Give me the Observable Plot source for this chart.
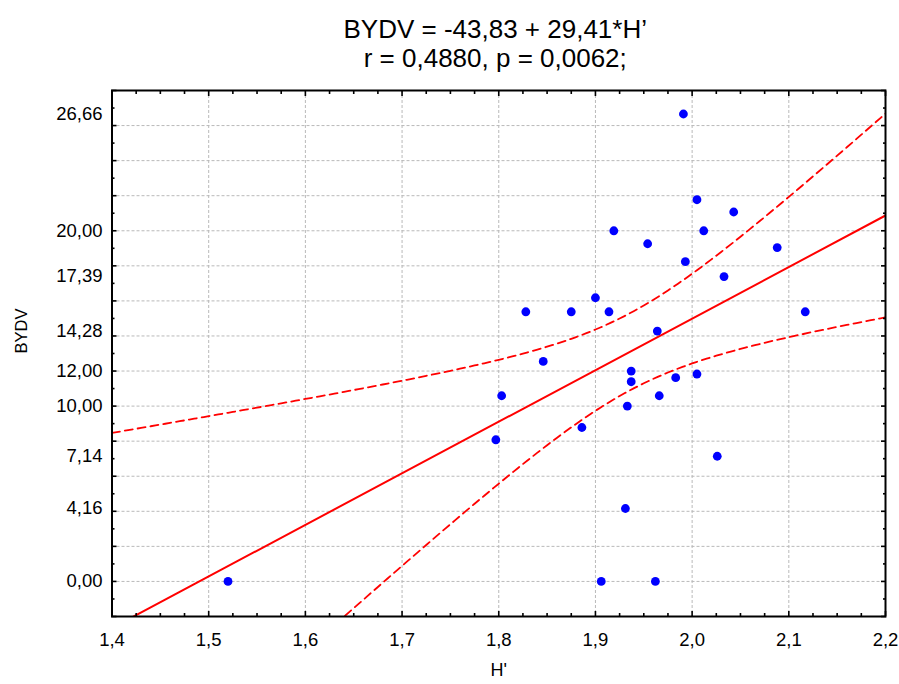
<!DOCTYPE html>
<html>
<head>
<meta charset="utf-8">
<script src="https://cdn.jsdelivr.net/npm/d3@7"></script>
<script src="https://cdn.jsdelivr.net/npm/@observablehq/plot@0.6"></script>
<style>
  html, body { margin: 0; padding: 0; background: #fff; }
  #chart svg { display: block; }
</style>
</head>
<body>
<div id="chart"></div>
<script>
// Shannon diversity index H' per plot
const hIndex = [
  1.520, 1.906, 1.962, 1.931, 2.026, 1.797, 1.886, 1.803, 1.933, 1.966,
  1.937, 1.937, 1.983, 2.005, 1.846, 1.964, 1.828, 1.875, 1.914, 2.117,
  1.900, 2.033, 1.993, 2.088, 1.954, 1.919, 2.012, 2.043, 2.005, 1.991
];
// BYDV incidence (%) for the same plots
const bydv = [
  0.00, 0.00, 0.00, 4.16, 7.14, 8.08, 8.78, 10.59, 10.00, 10.59,
  11.39, 12.00, 11.62, 11.83, 12.55, 14.28, 15.38, 15.38, 15.38, 15.38,
  16.18, 17.39, 18.24, 19.04, 19.26, 20.00, 20.00, 21.07, 21.77, 26.66
];

// Fitted model reported in the title
const intercept = -43.83;
const slope = 29.41;
const rValue = 0.4880;
const pValue = 0.0062;
const tCrit = 2.0484; // Student t, 0.975 quantile, df = 28

// Axis labelling
const yTickLabels = [0, 4.16, 7.14, 10, 12, 14.28, 17.39, 20, 26.66];
const xTickLabels = [1.4, 1.5, 1.6, 1.7, 1.8, 1.9, 2.0, 2.1, 2.2];
const xDomain = [1.4, 2.2];
const yDomain = [-2, 28];

const comma = (v, digits) => v.toFixed(digits).replace(".", ",");

const points = hIndex.map((h, i) => ({h, v: bydv[i]}));

// 95% confidence band of the mean response around the fitted line
const n = points.length;
const xMean = d3.mean(hIndex);
const sxx = d3.sum(hIndex, h => (h - xMean) ** 2);
const sse = d3.sum(points, d => (d.v - (intercept + slope * d.h)) ** 2);
const sRes = Math.sqrt(sse / (n - 2));
const bandXs = d3.range(0, 161).map(i => xDomain[0] + i * (xDomain[1] - xDomain[0]) / 160);
const band = bandXs.map(h => {
  const fit = intercept + slope * h;
  const half = tCrit * sRes * Math.sqrt(1 / n + (h - xMean) ** 2 / sxx);
  return {h, lo: fit - half, hi: fit + half};
});
const fitLine = xDomain.map(h => ({h, v: intercept + slope * h}));

// Tick positions: gridlines every 2 units / 0.1, minor ticks in between
const yMajor = d3.range(-2, 29, 2);
const yMinor = d3.range(-1, 28, 2);
const yGrid = d3.range(0, 27, 2);
const xMajor = xTickLabels;
const xMinor = d3.range(0, 33).map(i => +(1.4 + i * 0.025).toFixed(3)).filter(v => Math.abs(v * 10 - Math.round(v * 10)) > 1e-6);
const xGrid = xTickLabels.slice(1, -1);

const font = '"Liberation Sans", Arial, Helvetica, sans-serif';
const gridStyle = {stroke: "#b9b9b9", strokeOpacity: 1, strokeWidth: 1, strokeDasharray: "3,2"};
const tickStyle = {text: null, label: null, stroke: "#000", strokeWidth: 1.6};

const chart = Plot.plot({
  width: 899,
  height: 684,
  marginLeft: 111.5,
  marginRight: 14,
  marginTop: 90,
  marginBottom: 68,
  x: {domain: xDomain},
  y: {domain: yDomain},
  style: {fontFamily: font, background: "#fff", color: "#000", overflow: "visible"},
  marks: [
    Plot.gridX(xGrid, gridStyle),
    Plot.gridY(yGrid, gridStyle),

    Plot.line(band, {x: "h", y: "hi", stroke: "#ff0000", strokeWidth: 1.8, strokeDasharray: "8,5", clip: true}),
    Plot.line(band, {x: "h", y: "lo", stroke: "#ff0000", strokeWidth: 1.8, strokeDasharray: "8,5", clip: true}),
    Plot.line(fitLine, {x: "h", y: "v", stroke: "#ff0000", strokeWidth: 2, clip: true}),

    Plot.dot(points, {x: "h", y: "v", r: 4.4, fill: "#0000ff", stroke: null}),

    Plot.frame({stroke: "#000", strokeWidth: 2}),

    // inward tick marks on all four sides
    Plot.axisY(yMajor, {...tickStyle, anchor: "left", tickSize: -5}),
    Plot.axisY(yMinor, {...tickStyle, anchor: "left", tickSize: -3}),
    Plot.axisY(yMajor, {...tickStyle, anchor: "right", tickSize: -5}),
    Plot.axisY(yMinor, {...tickStyle, anchor: "right", tickSize: -3}),
    Plot.axisX(xMajor, {...tickStyle, anchor: "bottom", tickSize: -5}),
    Plot.axisX(xMinor, {...tickStyle, anchor: "bottom", tickSize: -3}),
    Plot.axisX(xMajor, {...tickStyle, anchor: "top", tickSize: -5}),
    Plot.axisX(xMinor, {...tickStyle, anchor: "top", tickSize: -3}),

    // tick labels
    Plot.axisY({ticks: yTickLabels, anchor: "left", tickSize: 0, tickPadding: 9.5, label: null,
      tickFormat: d => comma(d, 2), fontSize: 18.5, fill: "#000"}),
    Plot.axisX({ticks: xTickLabels, anchor: "bottom", tickSize: 0, tickPadding: 16, label: null,
      tickFormat: d => comma(d, 1), fontSize: 18.5, fill: "#000"}),

    // axis titles
    Plot.text(["H'"], {frameAnchor: "bottom", dy: 59, fontSize: 18, fill: "#000"}),
    Plot.text(["BYDV"], {frameAnchor: "left", dx: -90.5, rotate: -90, fontSize: 16.5, fill: "#000"}),

    // chart title
    Plot.text([`BYDV = ${comma(intercept, 2)} + ${comma(slope, 2)}*H’`],
      {frameAnchor: "top", dx: -3.5, dy: -71, fontSize: 26, fill: "#000"}),
    Plot.text([`r = ${comma(rValue, 4)}, p = ${comma(pValue, 4)};`],
      {frameAnchor: "top", dx: -3.5, dy: -42, fontSize: 26, fill: "#000"})
  ]
});

document.getElementById("chart").appendChild(chart);
</script>
</body>
</html>
